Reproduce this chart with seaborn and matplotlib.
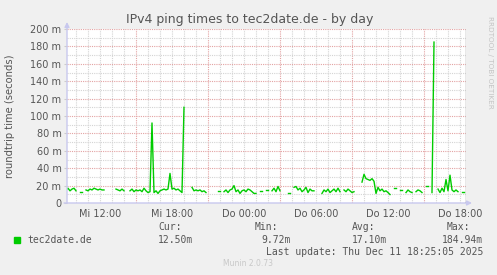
import numpy as np
import pandas as pd
import matplotlib
matplotlib.use("Agg")
import matplotlib.pyplot as plt
import seaborn as sns

# ---------------- data ----------------
title = "IPv4 ping times to tec2date.de - by day"
series_name = "tec2date.de"
ylabel = "roundtrip time (seconds)"
start_hour = 9.0          # Wed 09:00 (hours since Wed 00:00)
step_minutes = 10
nan = np.nan
rtt_ms = [
    nan, 15, 17, 14, 16, 17,      # Mi 09
    14, nan, 13, 13, nan, 15,     # Mi 10
    14, 16, 15, 17, 16, 15,       # Mi 11
    16, 15, 15, nan, nan, nan,    # Mi 12
    nan, nan, 16, 15, 14, 16,     # Mi 13
    14, nan, nan, 14, 16, 13,     # Mi 14
    15, 14, 15, 13, 17, 14,       # Mi 15
    12, 13, 92, 12, 14, 11,       # Mi 16
    14, 15, 16, 15, 16, 34,       # Mi 17
    16, 17, 15, 16, 14, 12,       # Mi 18
    110, nan, nan, nan, 18, 14,   # Mi 19
    15, 14, 15, 13, 14, 12,       # Mi 20
    nan, nan, nan, nan, nan, 14,  # Mi 21
    14, nan, 13, 15, 12, 15,      # Mi 22
    16, 20, 13, 15, 11, 14,       # Mi 23
    15, 13, 16, 15, 13, 11,       # Do 00
    11, nan, 14, 14, nan, 15,     # Do 01
    15, nan, 14, 17, 13, 19,      # Do 02
    14, nan, nan, nan, 11, 11,    # Do 03
    nan, 18, 19, 15, 17, 13,      # Do 04
    15, 18, 12, 16, 14, 14,       # Do 05
    nan, nan, nan, 11, 15, 13,    # Do 06
    16, 12, 14, 16, 13, 17,       # Do 07
    13, nan, 15, 13, 16, 14,      # Do 08
    12, 13, nan, nan, nan, 24,    # Do 09
    33, 28, 27, 26, 28, 25,       # Do 10
    11, 18, 14, 16, 13, 14,       # Do 11
    12, 9.72, nan, 17, 17, nan,   # Do 12
    15, 15, nan, 12, 15, 13,      # Do 13
    12, nan, 13, 15, 14, 12,      # Do 14
    nan, 20, 20, nan, 12, 184.94, # Do 15
    nan, 16, 12, 17, 13, 27,      # Do 16
    14, 32, 15, 13, 15, 13,       # Do 17
    nan, 12.5, 12.5,              # Do 18
]
tick_hours = [12, 18, 24, 30, 36, 42]
tick_labels = ["Mi 12:00", "Mi 18:00", "Do 00:00", "Do 06:00", "Do 12:00", "Do 18:00"]
ytick_vals = [0, 20, 40, 60, 80, 100, 120, 140, 160, 180, 200]
ytick_labels = ["0", "20 m", "40 m", "60 m", "80 m", "100 m", "120 m",
                "140 m", "160 m", "180 m", "200 m"]
stats_labels = ["Cur:", "Min:", "Avg:", "Max:"]
stats_values = ["12.50m", "9.72m", "17.10m", "184.94m"]
last_update = "Last update: Thu Dec 11 18:25:05 2025"
side_text = "RRDTOOL / TOBI OETIKER"
footer = "Munin 2.0.73"

# ---------------- frame ----------------
hours = start_hour + np.arange(len(rtt_ms)) * step_minutes / 60.0
df = pd.DataFrame({"hour": hours, "rtt": rtt_ms})
df["seg"] = df["rtt"].isna().cumsum()
df = df.dropna()

W, H = 497, 275
fig = plt.figure(figsize=(W / 100, H / 100), dpi=100, facecolor="#F0F0F0")
L, R, T, B = 67, 466, 29, 203
ax = fig.add_axes([L / W, (H - B) / H, (R - L) / W, (B - T) / H])
ax.set_facecolor("white")

xmin, xmax = 9.25, 42.5
ax.set_xlim(xmin, xmax)
ax.set_ylim(0, 200)

minor_c = "#d4d4d4"
major_c = "#e3a3a3"
dot = (0, (1, 1))
for h in range(10, 43):
    c = major_c if h % 6 == 3 else minor_c
    ax.axvline(h, color=c, lw=0.8, ls=dot, zorder=1)
for v in range(10, 201, 10):
    c = major_c if v % 20 == 0 else minor_c
    ax.axhline(v, color=c, lw=0.8, ls=dot, zorder=1)

sns.lineplot(data=df, x="hour", y="rtt", units="seg", estimator=None,
             color="#00CC00", linewidth=1.0, ax=ax, legend=False, zorder=3)
ax.axvline(xmax, color="#8a8a8a", lw=1.0, zorder=4)

for s in ax.spines.values():
    s.set_visible(False)

ax.set_xticks(tick_hours)
ax.set_xticklabels(tick_labels)
ax.set_yticks(ytick_vals)
ax.set_yticklabels(ytick_labels)
ax.tick_params(axis="x", length=0, pad=4, labelsize=7, labelcolor="#555555")
ax.tick_params(axis="y", length=2, width=0.8, color="#cccccc", pad=2,
               labelsize=7, labelcolor="#555555")
ax.set_xlabel("")
ax.set_ylabel("")

axis_c = "#c8c8ee"
ax.annotate("", xy=(L, H - 22), xytext=(L, H - B), xycoords="figure pixels",
            arrowprops=dict(arrowstyle="-|>", color=axis_c, lw=1, mutation_scale=7,
                            shrinkA=0, shrinkB=0))
ax.annotate("", xy=(472, H - B), xytext=(L - 3, H - B), xycoords="figure pixels",
            arrowprops=dict(arrowstyle="-|>", color=axis_c, lw=1, mutation_scale=7,
                            shrinkA=0, shrinkB=0))

txt = "#555555"
fig.text(250 / W, 1 - 19 / H, title, ha="center", va="center", fontsize=9, color=txt)
fig.text(10 / W, 1 - 116 / H, ylabel, ha="center", va="center", rotation=90,
         fontsize=7.2, color=txt)
fig.text(490 / W, 1 - 62 / H, side_text, ha="center", va="center", rotation=270,
         fontsize=5.2, color="#c4c4c4")

mono = "DejaVu Sans Mono"
fig.patches.append(plt.Rectangle((14 / W, 1 - 243 / H), 6 / W, 6 / H,
                                 transform=fig.transFigure, color="#00CC00"))
fig.text(27 / W, 1 - 240 / H, series_name, ha="left", va="center",
         fontsize=7, family=mono, color=txt)
for x, lab in zip([158, 255, 352, 447], stats_labels):
    fig.text(x / W, 1 - 227 / H, lab, ha="left", va="center", fontsize=7,
             family=mono, color=txt)
for x, val in zip([193, 291, 387, 483], stats_values):
    fig.text(x / W, 1 - 240 / H, val, ha="right", va="center", fontsize=7,
             family=mono, color=txt)
fig.text(483 / W, 1 - 252 / H, last_update, ha="right", va="center", fontsize=7,
         family=mono, color=txt)
fig.text(248 / W, 1 - 264 / H, footer, ha="center", va="center", fontsize=5.5,
         color="#c8c8c8")

fig.savefig("out.png", dpi=100, facecolor=fig.get_facecolor())
